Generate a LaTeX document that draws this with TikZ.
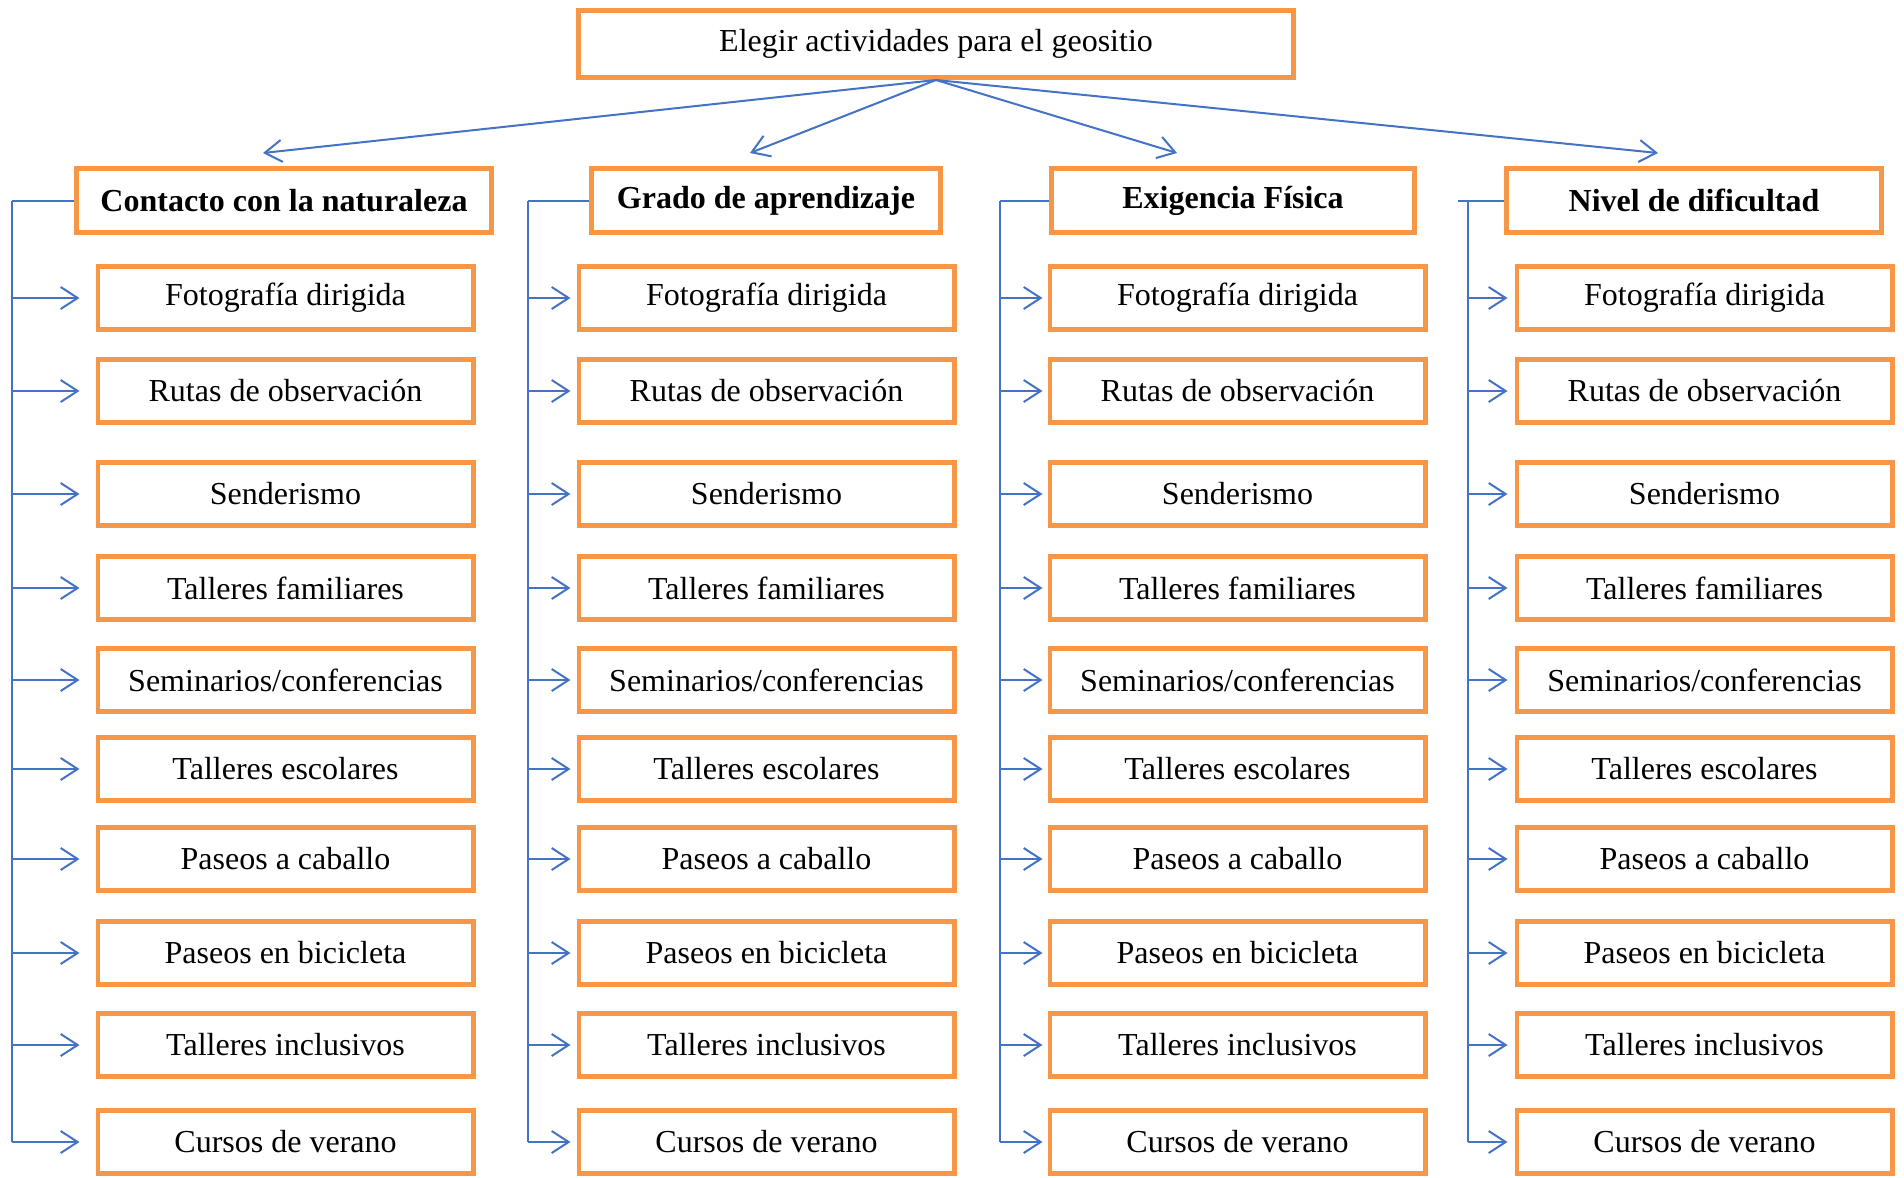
\documentclass[tikz,border=0pt]{standalone}
\usepackage{fontspec}
\setmainfont{Liberation Serif}
\usetikzlibrary{arrows.meta}
\definecolor{boxorange}{HTML}{F79646}
\definecolor{linkblue}{HTML}{4472C4}
\begin{document}
\begin{tikzpicture}[x=0.5pt,y=-0.5pt,
  box/.style={draw=boxorange, line width=2.4pt, fill=white, inner sep=0pt, font=\fontsize{16}{19}\selectfont},
  child/.style={box, minimum width=187.6pt, minimum height=31.6pt},
  head/.style={box, minimum height=32.1pt, font=\fontsize{16}{19}\selectfont\bfseries},
  link/.style={draw=linkblue, line width=1pt},
  arr/.style={link, -{Straight Barb[length=8.5pt,width=11pt,line width=1pt]}},
]
\useasboundingbox (0,0) rectangle (1904,1177);

\node[box, minimum width=357.6pt, minimum height=33.6pt] (top) at (936,44) {Elegir actividades para el geositio};

\node[head, minimum width=207.6pt] (h1) at (284,200.5) {Contacto con la naturaleza};
\node[head, minimum width=174.6pt] (h2) at (766,200.5) {Grado de aprendizaje};
\node[head, minimum width=181.6pt] (h3) at (1233,200.5) {Exigencia Física};
\node[head, minimum width=187.6pt] (h4) at (1694,200.5) {Nivel de dificultad};

\coordinate (t1) at (263,153);
\coordinate (t2) at (750,153);
\coordinate (t3) at (1177,153);
\coordinate (t4) at (1658,153);
\foreach \k in {1,...,4} {\draw[arr] (top.south) -- (t\k);}

\foreach \c/\cx/\vx/\hx/\sh in {1/285.5/12/12/8, 2/766.5/528/528/3, 3/1237.5/1000/1000/2.5, 4/1704.5/1468/1458/3.5} {
  \foreach \t/\yy [count=\i] in {Fotografía dirigida/298, Rutas de observación/391, Senderismo/494, Talleres familiares/588, {Seminarios/conferencias}/680, Talleres escolares/769, Paseos a caballo/859, Paseos en bicicleta/953, Talleres inclusivos/1045, Cursos de verano/1142} {
    \node[child] (c\c r\i) at (\cx,\yy) {\t};
  }
  \coordinate (v\c) at (\vx,0);
  \coordinate (hl\c) at (\hx,0);
  \draw[link] (h\c.west) -- (h\c.west -| hl\c);
  \draw[link] (h\c.west -| v\c) -- (c\c r10.west -| v\c);
  \foreach \i in {1,...,10} {
    \draw[arr] (c\c r\i.west -| v\c) -- ([xshift=-\sh pt]c\c r\i.west);
  }
}
\end{tikzpicture}
\end{document}
